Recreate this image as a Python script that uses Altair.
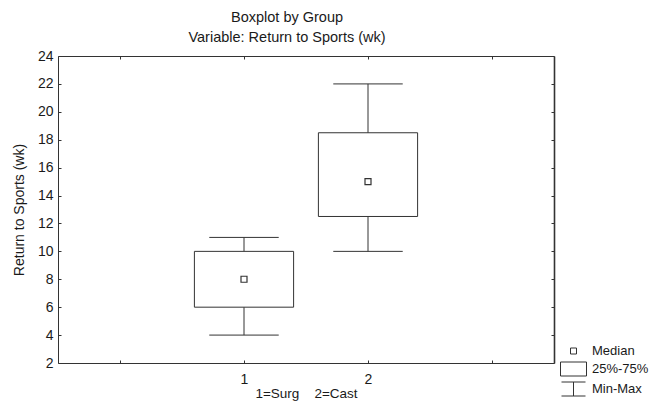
import altair as alt
import pandas as pd

# ---- data ----
groups = [1, 2]
mins = [4, 10]
q1s = [6, 12.5]
medians = [8, 15]
q3s = [10, 18.5]
maxs = [11, 22]

x_tick_values = [0, 1, 2, 3]
y_tick_values = [2, 4, 6, 8, 10, 12, 14, 16, 18, 20, 22, 24]

legend_items = ["Median", "25%-75%", "Min-Max"]
legend_paths = [
    "M-0.375,-0.375H0.375V0.375H-0.375Z",
    "M-1.625,-0.875H1.625V0.875H-1.625Z",
    "M-1.5,-0.875H1.5M0,-0.875V0.875M-1.5,0.875H1.5",
]

FONT = "Liberation Sans"
INK = "#333333"
TXT = "#1a1a1a"

df = pd.DataFrame({"group": groups, "min": mins, "q1": q1s,
                   "median": medians, "q3": q3s, "max": maxs})
leg = pd.DataFrame({"item": legend_items})

x_scale = alt.Scale(domain=[-0.5, 3.5], nice=False, zero=False)
y_scale = alt.Scale(domain=[2, 24], nice=False, zero=False)

label_expr = "datum.value == 1 ? '1' : datum.value == 2 ? '2' : ''"

base = alt.Chart(df).transform_calculate(
    xl="datum.group - 0.4", xr="datum.group + 0.4",
    cl="datum.group - 0.28", cr="datum.group + 0.28",
)

ax_common = dict(domainColor=INK, domainWidth=1, tickColor=INK, tickWidth=1,
                 tickSize={"expr": "-3"}, grid=False, labelFont=FONT,
                 labelFontSize=14, labelColor=TXT, titleFont=FONT,
                 titleFontSize=14, titleFontWeight="normal", titleColor=TXT)

stems = base.mark_rule(color=INK, strokeWidth=1).encode(
    x=alt.X("group:Q", scale=x_scale,
            axis=alt.Axis(values=x_tick_values, labelExpr=label_expr,
                          title="1=Surg\u00a0\u00a0\u00a0\u00a02=Cast",
                          labelPadding=12, titlePadding=0,
                          **dict(ax_common, titleFontSize=13.5))),
    y=alt.Y("min:Q", scale=y_scale,
            axis=alt.Axis(values=y_tick_values, title="Return to Sports (wk)",
                          labelPadding=8, titlePadding=11, **ax_common)),
    y2="max:Q",
)

frame = base.mark_rule(opacity=0).encode(
    x=alt.X("group:Q", scale=x_scale,
            axis=alt.Axis(orient="top", values=x_tick_values, labels=False,
                          title=None, **ax_common)),
    y=alt.Y("min:Q", scale=y_scale,
            axis=alt.Axis(orient="right", values=y_tick_values, labels=False,
                          title=None, **dict(ax_common, domainWidth=1.6))),
)

cap_lo = base.mark_rule(color=INK, strokeWidth=1).encode(
    x=alt.X("cl:Q", scale=x_scale, axis=None), x2="cr:Q",
    y=alt.Y("min:Q", scale=y_scale, axis=None),
)
cap_hi = base.mark_rule(color=INK, strokeWidth=1).encode(
    x=alt.X("cl:Q", scale=x_scale, axis=None), x2="cr:Q",
    y=alt.Y("max:Q", scale=y_scale, axis=None),
)
boxes = base.mark_rect(fill="white", stroke=INK, strokeWidth=1).encode(
    x=alt.X("xl:Q", scale=x_scale, axis=None), x2="xr:Q",
    y=alt.Y("q1:Q", scale=y_scale, axis=None), y2="q3:Q",
)
med = base.mark_point(shape="square", size=36, filled=False, color=INK,
                      strokeWidth=1.2, opacity=1).encode(
    x=alt.X("group:Q", scale=x_scale, axis=None),
    y=alt.Y("median:Q", scale=y_scale, axis=None),
)

legend_layer = alt.Chart(leg).mark_point(filled=False, color=INK, opacity=0).encode(
    shape=alt.Shape("item:N",
                    scale=alt.Scale(domain=legend_items, range=legend_paths),
                    legend=alt.Legend(orient="none", legendX=507, legendY=286.5,
                                      title=None, padding=0, symbolSize=256,
                                      symbolOpacity=1, symbolStrokeColor=INK,
                                      symbolStrokeWidth=1,
                                      symbolFillColor="transparent",
                                      labelFont=FONT, labelFontSize=13,
                                      labelColor=TXT, labelOffset=10,
                                      rowPadding=1)),
)

chart = alt.layer(stems, frame, cap_lo, cap_hi, boxes, med, legend_layer).resolve_axis(
    x="independent", y="independent"
).properties(
    width=496, height=307,
    autosize=alt.AutoSizeParams(type="none"),
    padding={"left": 50, "top": 48, "right": 96, "bottom": 39},
    title=alt.TitleParams(text="Boxplot by Group",
                          subtitle="Variable: Return to Sports (wk)",
                          anchor="middle", dx=-19, offset=4,
                          font=FONT, fontSize=14.5, fontWeight="normal",
                          color=TXT, subtitleFont=FONT, subtitleFontSize=14.5,
                          subtitleColor=TXT, subtitlePadding=5),
).configure_view(stroke=None)

chart.save("out.html", embed_options={"renderer": "svg", "actions": False})
